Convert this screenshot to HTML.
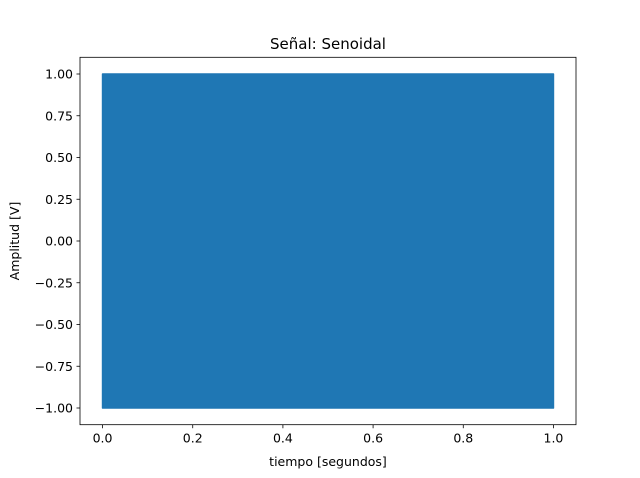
<!DOCTYPE html>
<html><head><meta charset="utf-8">
<style>
html,body{margin:0;padding:0;background:#fff;}
svg{display:block;font-family:"DejaVu Sans","Liberation Sans",sans-serif;}
</style></head>
<body>
<svg id="chart" width="640" height="478" viewBox="0 0 640 478" xmlns="http://www.w3.org/2000/svg">
<rect width="640" height="478" fill="#fff"/>
<g id="plot"></g>
<g id="axes"></g>
<text x="328" y="49" font-size="15" text-anchor="middle" fill="#000">Señal: Senoidal</text>
<text x="328" y="466" font-size="12.5" text-anchor="middle" fill="#000">tiempo [segundos]</text>
<text transform="translate(19,241) rotate(-90)" font-size="12.5" text-anchor="middle" fill="#000">Amplitud [V]</text>
</svg>
<script>
// data
const timeSpan = [0.0, 1.0];          // signal start/end in seconds
const amplitudeEnvelope = [-1.0, 1.0]; // min/max amplitude in volts
const xTicks = [0.0, 0.2, 0.4, 0.6, 0.8, 1.0];
const xTickLabels = ["0.0","0.2","0.4","0.6","0.8","1.0"];
const yTicks = [-1.0, -0.75, -0.5, -0.25, 0.0, 0.25, 0.5, 0.75, 1.0];
const yTickLabels = ["−1.00","−0.75","−0.50","−0.25","0.00","0.25","0.50","0.75","1.00"];

const L=80,R=576,T=57.3,B=424.7;
const xMin=-0.05,xMax=1.05,yMin=-1.1,yMax=1.1;
function xs(v){return L+(v-xMin)/(xMax-xMin)*(R-L);}
function ys(v){return B-(v-yMin)/(yMax-yMin)*(B-T);}
const NS="http://www.w3.org/2000/svg";
function mk(tag,attrs,parent){const e=document.createElementNS(NS,tag);for(const k in attrs)e.setAttribute(k,attrs[k]);parent.appendChild(e);return e;}

const plot=document.getElementById('plot');
const band=mk('rect',{x:xs(timeSpan[0]),y:ys(amplitudeEnvelope[1]),width:xs(timeSpan[1])-xs(timeSpan[0]),height:ys(amplitudeEnvelope[0])-ys(amplitudeEnvelope[1]),fill:'#1f77b4',stroke:'#1f77b4','stroke-width':1.5,'stroke-linejoin':'round'},plot);



const axes=document.getElementById('axes');
const frame=mk('rect',{x:L,y:T,width:R-L,height:B-T,fill:'none',stroke:'#000','stroke-width':0.8},axes);



xTicks.forEach((v,i)=>{
  const x=xs(v);
  const t=mk('line',{x1:x,x2:x,y1:B,y2:B+3.5,stroke:'#000','stroke-width':0.8},axes);
  
  
  const l=mk('text',{x:x,y:B+18,'font-size':12.5,'text-anchor':'middle',fill:'#000'},axes);
  l.textContent=xTickLabels[i];
  
  
});
yTicks.forEach((v,i)=>{
  const y=ys(v);
  const t=mk('line',{x1:L-3.5,x2:L,y1:y,y2:y,stroke:'#000','stroke-width':0.8},axes);
  
  
  const l=mk('text',{x:L-7,y:y+4.5,'font-size':12.5,'text-anchor':'end',fill:'#000'},axes);
  l.textContent=yTickLabels[i];
  
  
});
</script>
</body></html>
